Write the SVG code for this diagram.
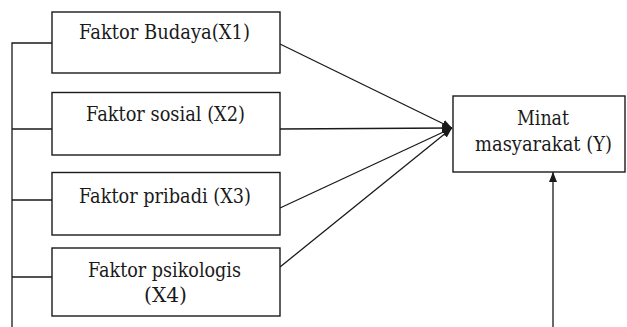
<svg xmlns="http://www.w3.org/2000/svg" width="627" height="327" viewBox="0 0 627 327">
<defs>
<style>
.box{fill:#fff;stroke:#1a1a1a;stroke-width:1.4}
.ln{fill:none;stroke:#1a1a1a;stroke-width:1.3}
.t{font-family:'DejaVu Serif',serif;font-size:20px;fill:#1a1a1a;text-anchor:middle}
</style>
<marker id="ah" viewBox="0 0 10 10" refX="10" refY="5" markerWidth="10" markerHeight="10" markerUnits="userSpaceOnUse" orient="auto">
<path d="M0,1 L10,5 L0,9 Z" fill="#1a1a1a"/>
</marker>
</defs>
<rect width="627" height="327" fill="#fff"/>
<g id="connectors">
<path class="ln" d="M12,327 V43 H52 M12,129 H52 M12,200 H52 M12,277 H52"/>
<line class="ln" x1="280" y1="44" x2="452" y2="128" marker-end="url(#ah)"/>
<line class="ln" x1="280" y1="129" x2="452" y2="128" marker-end="url(#ah)"/>
<line class="ln" x1="280" y1="208" x2="452" y2="128" marker-end="url(#ah)"/>
<line class="ln" x1="280" y1="267" x2="452" y2="128" marker-end="url(#ah)"/>
<line class="ln" x1="553" y1="327" x2="553" y2="172" marker-end="url(#ah)"/>
</g>
<g id="x1">
<rect class="box" x="52" y="12" width="228" height="61"/>
<text class="t" x="164.5" y="39" textLength="171" lengthAdjust="spacingAndGlyphs">Faktor Budaya(X1)</text>
</g>
<g id="x2">
<rect class="box" x="52" y="92.5" width="228" height="62.5"/>
<text class="t" x="165.5" y="121" textLength="159" lengthAdjust="spacingAndGlyphs">Faktor sosial (X2)</text>
</g>
<g id="x3">
<rect class="box" x="52" y="172.5" width="228" height="62.5"/>
<text class="t" x="165" y="203" textLength="172" lengthAdjust="spacingAndGlyphs">Faktor pribadi (X3)</text>
</g>
<g id="x4">
<rect class="box" x="52" y="248" width="228" height="68"/>
<text class="t" x="164.5" y="277" textLength="153" lengthAdjust="spacingAndGlyphs">Faktor psikologis</text>
<text class="t" x="165.5" y="302" textLength="43" lengthAdjust="spacingAndGlyphs">(X4)</text>
</g>
<g id="y">
<rect class="box" x="453" y="96" width="172" height="76"/>
<text class="t" x="543" y="125" textLength="52" lengthAdjust="spacingAndGlyphs">Minat</text>
<text class="t" x="543.5" y="151" textLength="137" lengthAdjust="spacingAndGlyphs">masyarakat (Y)</text>
</g>
</svg>
